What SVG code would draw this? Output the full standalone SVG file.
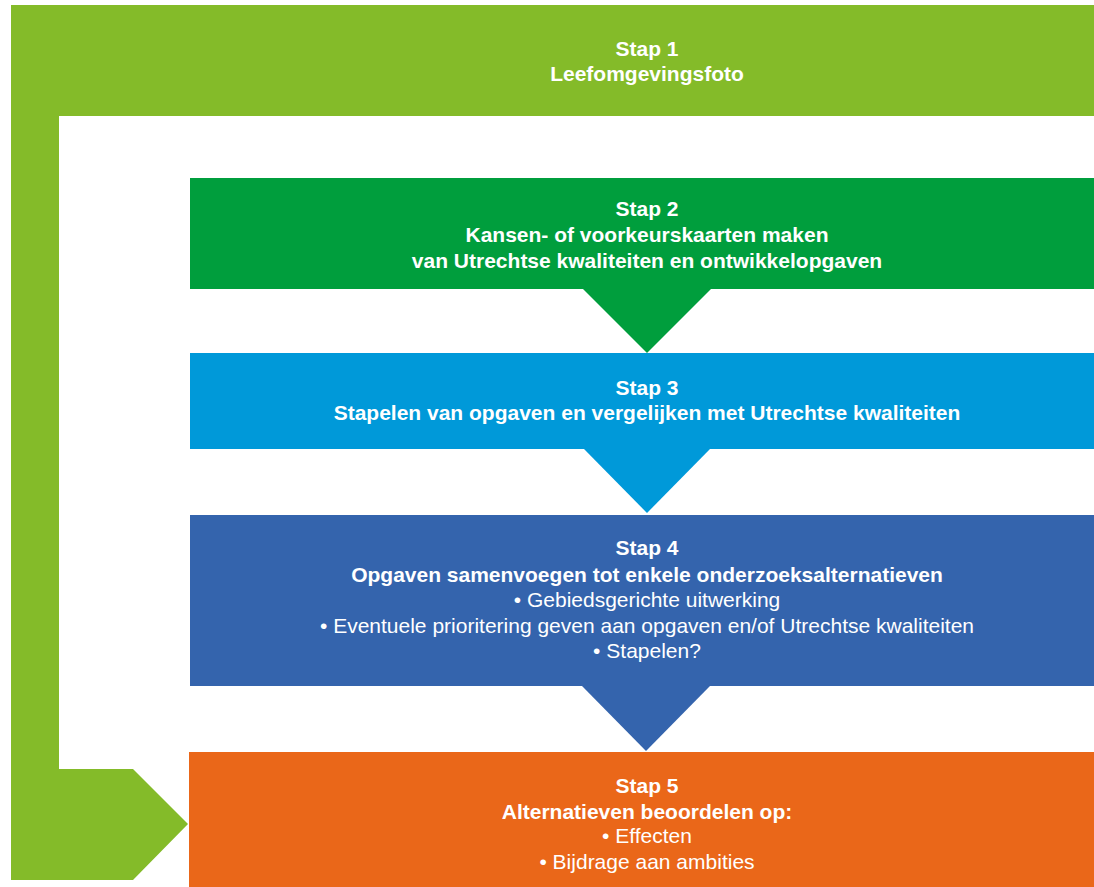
<svg xmlns="http://www.w3.org/2000/svg" width="1094" height="887" viewBox="0 0 1094 887">
<style>
text{font-family:"Liberation Sans",Arial,sans-serif;font-size:21px;fill:#fff;text-anchor:middle}
.b{font-weight:bold}
</style>
<rect width="1094" height="887" fill="#fff"/>
<g id="connectors">
<path d="M583,289 L711,289 L647,353 Z" fill="#009E3D"/>
<path d="M584,449 L710,449 L647,513 Z" fill="#0099D9"/>
<path d="M582,686 L710,686 L646,751 Z" fill="#3464AD"/>
</g>
<g id="stap1">
<path d="M11,5 L1094,5 L1094,116 L59,116 L59,769 L133,769 L188,824 L133,880 L11,880 Z" fill="#84BB29"/>
<text class="b" x="647" y="56">Stap 1</text>
<text class="b" x="647" y="81">Leefomgevingsfoto</text>
</g>
<g id="stap2">
<rect x="190" y="178" width="904" height="111" fill="#009E3D"/>
<text class="b" x="647" y="216">Stap 2</text>
<text class="b" x="647" y="242">Kansen- of voorkeurskaarten maken</text>
<text class="b" x="647" y="268">van Utrechtse kwaliteiten en ontwikkelopgaven</text>
</g>
<g id="stap3">
<rect x="190" y="353" width="904" height="96" fill="#0099D9"/>
<text class="b" x="647" y="395">Stap 3</text>
<text class="b" x="647" y="420">Stapelen van opgaven en vergelijken met Utrechtse kwaliteiten</text>
</g>
<g id="stap4">
<rect x="190" y="515" width="904" height="171" fill="#3464AD"/>
<text class="b" x="647" y="555">Stap 4</text>
<text class="b" x="647" y="582">Opgaven samenvoegen tot enkele onderzoeksalternatieven</text>
<text x="647" y="607">• Gebiedsgerichte uitwerking</text>
<text x="647" y="633">• Eventuele prioritering geven aan opgaven en/of Utrechtse kwaliteiten</text>
<text x="647" y="658">• Stapelen?</text>
</g>
<g id="stap5">
<rect x="189" y="752" width="905" height="135" fill="#EA6719"/>
<text class="b" x="647" y="793">Stap 5</text>
<text class="b" x="647" y="819">Alternatieven beoordelen op:</text>
<text x="647" y="843">• Effecten</text>
<text x="647" y="869">• Bijdrage aan ambities</text>
</g>
</svg>
